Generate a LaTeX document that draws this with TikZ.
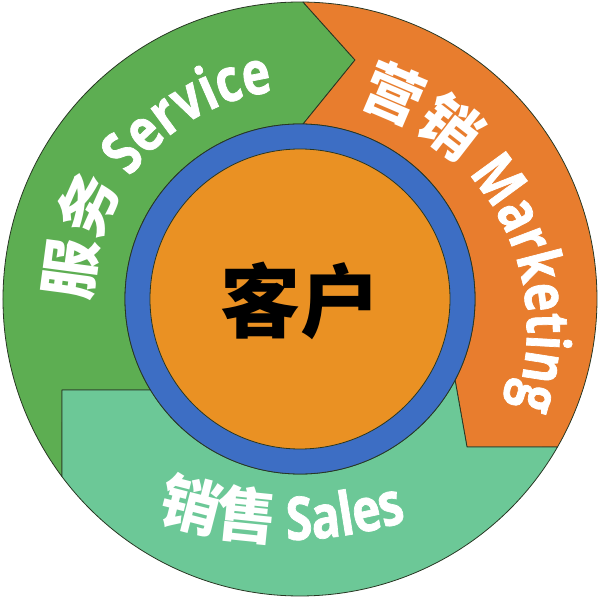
\documentclass[tikz,border=0pt]{standalone}
\usepackage{fontspec}
\usetikzlibrary{decorations.text}
\newfontfamily\cjkfont{Noto Sans CJK SC}
\newfontfamily\latfont{Open Sans}[FakeStretch=0.8, FakeBold=1.2]
\definecolor{servgreen}{RGB}{93,174,82}
\definecolor{markorange}{RGB}{232,125,46}
\definecolor{salesgreen}{RGB}{108,200,151}
\definecolor{ringblue}{RGB}{61,110,196}
\definecolor{coreorange}{RGB}{234,145,35}
\definecolor{edge}{RGB}{40,55,35}
\newcommand\ringcjk{\cjkfont\bfseries\fontsize{60}{60}\selectfont\color{white}}
\newcommand\ringlat{\latfont\bfseries\fontsize{60}{60}\selectfont\color{white}}

\begin{document}
\begin{tikzpicture}[x=1pt,y=1pt,
    part/.style={draw=edge, line width=0.8pt, line join=round},
    ringtext/.style={decorate, decoration={text along path, text align=center, #1}}]
			\useasboundingbox (-300,-300) rectangle (300,299);
			
			% outer ring, three parts
			\path[part, fill=servgreen] (216.74:297) arc [radius=297, start angle=216.74, end angle=89.42] -- (55,239) -- (89:175) arc [radius=175, start angle=89, end angle=211.3] -- (-238,-91) -- cycle;
			
			\path[part, fill=markorange] (89.42:297) arc [radius=297, start angle=89.42, end angle=-29.89] -- (167,-148) -- (-27.6:175) arc [radius=175, start angle=-27.6, end angle=89] -- (55,239) -- cycle;
			
			\path[part, fill=salesgreen] (-29.89:297) arc [radius=297, start angle=-29.89, end angle=-143.26] -- (-238,-91) -- (211.3:175) arc [radius=175, start angle=211.3, end angle=332.4] -- (167,-148) -- cycle;
			
			% customer in the middle
			\draw [part, fill=ringblue] (0,0) circle [radius=175];
			\draw [part, fill=coreorange] (0,0) circle [radius=150];
			\node (kehu) at (1,-2) {\cjkfont\bfseries\fontsize{80}{80}\selectfont 客户};
			
			% labels along the ring
			\path [ringtext={text={|\ringcjk|服务|\ringlat| Service}}] (185:209) arc [radius=209, start angle=185, end angle=93];
			\path [shift={(-6,-30)}, ringtext={text={|\ringcjk|营销|\ringlat| Marketing}}] (80:233) arc [radius=233, start angle=80, end angle=-25];
			\path [shift={(-15,159)}, ringtext={text={|\ringcjk|销售|\ringlat| Sales}}] (-112:400) arc [radius=400, start angle=-112, end angle=-69];
		\end{tikzpicture}
\end{document}
